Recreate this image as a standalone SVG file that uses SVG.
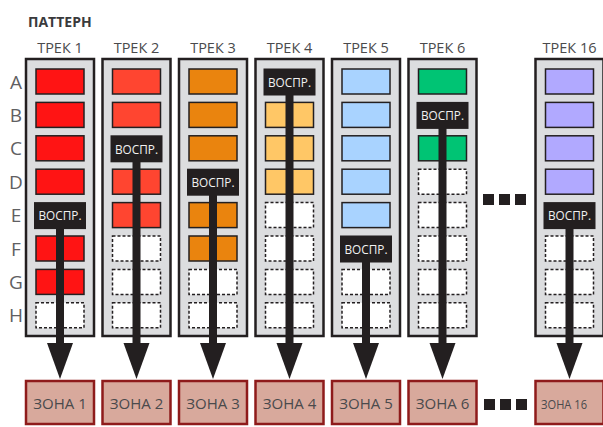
<svg xmlns="http://www.w3.org/2000/svg" width="603" height="427" viewBox="0 0 603 427">
<style>
text{font-family:"Open Sans","Liberation Sans",sans-serif}
.title{font-size:14px;font-weight:bold;fill:#3a3a3c}
.hdr{font-size:14.5px;fill:#4a4a4c;text-anchor:middle}
.row{font-size:19px;fill:#5f6062;text-anchor:middle}
.track{fill:#dcdddf;stroke:#231f20;stroke-width:2.5}
.cell{stroke:#231f20;stroke-width:1.5}
.empty{fill:#fff;stroke:#231f20;stroke-width:1.5;stroke-dasharray:3 2}
.play{fill:#231f20}
.ptxt{font-size:13.5px;fill:#f2f2f2;text-anchor:middle}
.zone{fill:#d8a99c;stroke:#8e1b1b;stroke-width:2.5}
.ztxt{font-size:15px;fill:#4a4a4c;text-anchor:middle}
.bar{stroke:#231f20;stroke-width:8}
.head{fill:#231f20}
.dot{fill:#231f20}
</style>
<text class="title" x="28" y="27">ПАТТЕРН</text>
<g id="row-labels">
<text class="row" x="16" y="88.5">A</text>
<text class="row" x="16" y="121.9">B</text>
<text class="row" x="16" y="155.3">C</text>
<text class="row" x="16" y="188.7">D</text>
<text class="row" x="16" y="222.1">E</text>
<text class="row" x="16" y="255.5">F</text>
<text class="row" x="16" y="288.9">G</text>
<text class="row" x="16" y="322.3">H</text>
</g>

<g id="track1">
<text class="hdr" x="60" y="53">ТРЕК 1</text>
<rect class="track" x="26" y="59" width="68" height="277"/>
<rect class="cell" fill="#ff1414" x="36" y="69" width="48" height="25"/>
<rect class="cell" fill="#ff1414" x="36" y="102.4" width="48" height="25"/>
<rect class="cell" fill="#ff1414" x="36" y="135.8" width="48" height="25"/>
<rect class="cell" fill="#ff1414" x="36" y="169.2" width="48" height="25"/>
<rect class="play" x="34" y="202.1" width="52" height="27"/>
<text class="ptxt" x="60" y="220.4" textLength="43" lengthAdjust="spacingAndGlyphs">ВОСПР.</text>
<rect class="cell" fill="#ff1414" x="36" y="236" width="48" height="25"/>
<rect class="cell" fill="#ff1414" x="36" y="269.4" width="48" height="25"/>
<rect class="empty" x="36" y="302.8" width="48" height="25"/>
</g>

<g id="track2">
<text class="hdr" x="136.5" y="53">ТРЕК 2</text>
<rect class="track" x="102.5" y="59" width="68" height="277"/>
<rect class="cell" fill="#ff4530" x="112.5" y="69" width="48" height="25"/>
<rect class="cell" fill="#ff4530" x="112.5" y="102.4" width="48" height="25"/>
<rect class="play" x="110.5" y="135.3" width="52" height="27"/>
<text class="ptxt" x="136.5" y="153.6" textLength="43" lengthAdjust="spacingAndGlyphs">ВОСПР.</text>
<rect class="cell" fill="#ff4530" x="112.5" y="169.2" width="48" height="25"/>
<rect class="cell" fill="#ff4530" x="112.5" y="202.6" width="48" height="25"/>
<rect class="empty" x="112.5" y="236" width="48" height="25"/>
<rect class="empty" x="112.5" y="269.4" width="48" height="25"/>
<rect class="empty" x="112.5" y="302.8" width="48" height="25"/>
</g>

<g id="track3">
<text class="hdr" x="213" y="53">ТРЕК 3</text>
<rect class="track" x="179" y="59" width="68" height="277"/>
<rect class="cell" fill="#ea840e" x="189" y="69" width="48" height="25"/>
<rect class="cell" fill="#ea840e" x="189" y="102.4" width="48" height="25"/>
<rect class="cell" fill="#ea840e" x="189" y="135.8" width="48" height="25"/>
<rect class="play" x="187" y="168.7" width="52" height="27"/>
<text class="ptxt" x="213" y="187" textLength="43" lengthAdjust="spacingAndGlyphs">ВОСПР.</text>
<rect class="cell" fill="#ea840e" x="189" y="202.6" width="48" height="25"/>
<rect class="cell" fill="#ea840e" x="189" y="236" width="48" height="25"/>
<rect class="empty" x="189" y="269.4" width="48" height="25"/>
<rect class="empty" x="189" y="302.8" width="48" height="25"/>
</g>

<g id="track4">
<text class="hdr" x="289.5" y="53">ТРЕК 4</text>
<rect class="track" x="255.5" y="59" width="68" height="277"/>
<rect class="play" x="263.5" y="68.5" width="52" height="27"/>
<text class="ptxt" x="289.5" y="86.8" textLength="43" lengthAdjust="spacingAndGlyphs">ВОСПР.</text>
<rect class="cell" fill="#ffc766" x="265.5" y="102.4" width="48" height="25"/>
<rect class="cell" fill="#ffc766" x="265.5" y="135.8" width="48" height="25"/>
<rect class="cell" fill="#ffc766" x="265.5" y="169.2" width="48" height="25"/>
<rect class="empty" x="265.5" y="202.6" width="48" height="25"/>
<rect class="empty" x="265.5" y="236" width="48" height="25"/>
<rect class="empty" x="265.5" y="269.4" width="48" height="25"/>
<rect class="empty" x="265.5" y="302.8" width="48" height="25"/>
</g>

<g id="track5">
<text class="hdr" x="366" y="53">ТРЕК 5</text>
<rect class="track" x="332" y="59" width="68" height="277"/>
<rect class="cell" fill="#a9d3ff" x="342" y="69" width="48" height="25"/>
<rect class="cell" fill="#a9d3ff" x="342" y="102.4" width="48" height="25"/>
<rect class="cell" fill="#a9d3ff" x="342" y="135.8" width="48" height="25"/>
<rect class="cell" fill="#a9d3ff" x="342" y="169.2" width="48" height="25"/>
<rect class="cell" fill="#a9d3ff" x="342" y="202.6" width="48" height="25"/>
<rect class="play" x="340" y="235.5" width="52" height="27"/>
<text class="ptxt" x="366" y="253.8" textLength="43" lengthAdjust="spacingAndGlyphs">ВОСПР.</text>
<rect class="empty" x="342" y="269.4" width="48" height="25"/>
<rect class="empty" x="342" y="302.8" width="48" height="25"/>
</g>

<g id="track6">
<text class="hdr" x="442.5" y="53">ТРЕК 6</text>
<rect class="track" x="408.5" y="59" width="68" height="277"/>
<rect class="cell" fill="#00c474" x="418.5" y="69" width="48" height="25"/>
<rect class="play" x="416.5" y="101.9" width="52" height="27"/>
<text class="ptxt" x="442.5" y="120.2" textLength="43" lengthAdjust="spacingAndGlyphs">ВОСПР.</text>
<rect class="cell" fill="#00c474" x="418.5" y="135.8" width="48" height="25"/>
<rect class="empty" x="418.5" y="169.2" width="48" height="25"/>
<rect class="empty" x="418.5" y="202.6" width="48" height="25"/>
<rect class="empty" x="418.5" y="236" width="48" height="25"/>
<rect class="empty" x="418.5" y="269.4" width="48" height="25"/>
<rect class="empty" x="418.5" y="302.8" width="48" height="25"/>
</g>

<g id="track16">
<text class="hdr" x="569.5" y="53">ТРЕК 16</text>
<rect class="track" x="535.5" y="59" width="68" height="277"/>
<rect class="cell" fill="#b1a9ff" x="545.5" y="69" width="48" height="25"/>
<rect class="cell" fill="#b1a9ff" x="545.5" y="102.4" width="48" height="25"/>
<rect class="cell" fill="#b1a9ff" x="545.5" y="135.8" width="48" height="25"/>
<rect class="cell" fill="#b1a9ff" x="545.5" y="169.2" width="48" height="25"/>
<rect class="play" x="543.5" y="202.1" width="52" height="27"/>
<text class="ptxt" x="569.5" y="220.4" textLength="43" lengthAdjust="spacingAndGlyphs">ВОСПР.</text>
<rect class="empty" x="545.5" y="236" width="48" height="25"/>
<rect class="empty" x="545.5" y="269.4" width="48" height="25"/>
<rect class="empty" x="545.5" y="302.8" width="48" height="25"/>
</g>

<g id="ellipsis-tracks">
<rect class="dot" x="483" y="194" width="11" height="11"/>
<rect class="dot" x="499" y="194" width="11" height="11"/>
<rect class="dot" x="515" y="194" width="11" height="11"/>
</g>

<g id="connectors">
<line class="bar" x1="60" y1="229" x2="60" y2="344"/>
<polygon class="head" points="47,343 73,343 60,379"/>
<line class="bar" x1="136.5" y1="162" x2="136.5" y2="344"/>
<polygon class="head" points="123.5,343 149.5,343 136.5,379"/>
<line class="bar" x1="213" y1="195" x2="213" y2="344"/>
<polygon class="head" points="200,343 226,343 213,379"/>
<line class="bar" x1="289.5" y1="95" x2="289.5" y2="344"/>
<polygon class="head" points="276.5,343 302.5,343 289.5,379"/>
<line class="bar" x1="366" y1="262" x2="366" y2="344"/>
<polygon class="head" points="353,343 379,343 366,379"/>
<line class="bar" x1="442.5" y1="128" x2="442.5" y2="344"/>
<polygon class="head" points="429.5,343 455.5,343 442.5,379"/>
<line class="bar" x1="569.5" y1="229" x2="569.5" y2="344"/>
<polygon class="head" points="556.5,343 582.5,343 569.5,379"/>
</g>

<g id="zone1"><rect class="zone" x="26" y="381" width="68" height="43"/><text class="ztxt" x="60" y="409">ЗОНА 1</text></g>
<g id="zone2"><rect class="zone" x="102.5" y="381" width="68" height="43"/><text class="ztxt" x="136.5" y="409">ЗОНА 2</text></g>
<g id="zone3"><rect class="zone" x="179" y="381" width="68" height="43"/><text class="ztxt" x="213" y="409">ЗОНА 3</text></g>
<g id="zone4"><rect class="zone" x="255.5" y="381" width="68" height="43"/><text class="ztxt" x="289.5" y="409">ЗОНА 4</text></g>
<g id="zone5"><rect class="zone" x="332" y="381" width="68" height="43"/><text class="ztxt" x="366" y="409">ЗОНА 5</text></g>
<g id="zone6"><rect class="zone" x="408.5" y="381" width="68" height="43"/><text class="ztxt" x="442.5" y="409">ЗОНА 6</text></g>
<g id="zone16"><rect class="zone" x="535.5" y="381" width="68" height="43"/><text class="ztxt" x="564" y="409" style="font-size:13px" textLength="46" lengthAdjust="spacingAndGlyphs">ЗОНА 16</text></g>

<g id="ellipsis-zones">
<rect class="dot" x="484" y="399" width="11" height="11"/>
<rect class="dot" x="500" y="399" width="11" height="11"/>
<rect class="dot" x="516" y="399" width="11" height="11"/>
</g>
</svg>
